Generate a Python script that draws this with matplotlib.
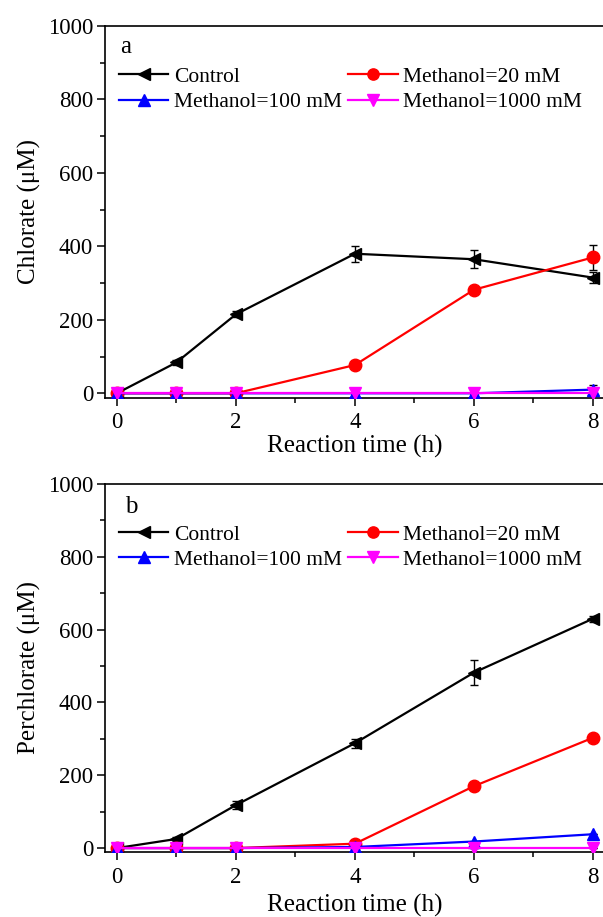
import numpy as np
import matplotlib
matplotlib.use('Agg')
import matplotlib.pyplot as plt
from matplotlib.ticker import MultipleLocator

plt.rcParams['font.family'] = ['Liberation Serif', 'DejaVu Serif']

# dados
tempo = [0, 1, 2, 4, 6, 8]
rotulos = ['Control', 'Methanol=20 mM', 'Methanol=100 mM', 'Methanol=1000 mM']

clorato_controle = [0, 84, 215, 380, 365, 315]
clorato_controle_err = [4, 8, 8, 22, 25, 15]
clorato_20 = [0, 0, 0, 77, 282, 370]
clorato_20_err = [0, 0, 0, 8, 8, 35]
clorato_100 = [0, 0, 0, 0, 0, 10]
clorato_100_err = [0, 0, 0, 0, 12, 12]
clorato_1000 = [0, 0, 0, 0, 0, 0]
clorato_1000_err = [0, 0, 0, 0, 0, 0]

perclorato_controle = [0, 25, 118, 288, 482, 630]
perclorato_controle_err = [3, 5, 12, 12, 35, 8]
perclorato_20 = [0, 0, 0, 12, 170, 303]
perclorato_20_err = [0, 0, 0, 8, 10, 0]
perclorato_100 = [0, 0, 0, 3, 18, 38]
perclorato_100_err = [0, 0, 10, 8, 0, 0]
perclorato_1000 = [0, 0, 0, 0, 0, 0]
perclorato_1000_err = [0, 0, 0, 0, 0, 0]

cores = ['black', 'red', 'blue', 'magenta']
marcadores = ['<', 'o', '^', 'v']

fig = plt.figure(figsize=(6.03, 9.17), dpi=100)
ax1 = fig.add_axes([0.1741, 0.5663, 0.829, 0.4053])
ax2 = fig.add_axes([0.1741, 0.0712, 0.829, 0.4010])


def desenhar(ax, series, erros, ylabel, letra, ylim_min, letra_pos, leg_y, xpad, xlabelpad):
    linhas = []
    for y, e, c, m, r in zip(series, erros, cores, marcadores, rotulos):
        ax.errorbar(tempo, y, yerr=e, fmt='none', ecolor='black',
                    elinewidth=1, capsize=3, capthick=1, zorder=2)
        l, = ax.plot(tempo, y, color=c, marker=m, markersize=9,
                     linewidth=1.6, label=r, zorder=3)
        linhas.append(l)
    ax.set_xlim(-0.2, 8.2)
    ax.set_ylim(ylim_min, 1000)
    ax.xaxis.set_major_locator(MultipleLocator(2))
    ax.xaxis.set_minor_locator(MultipleLocator(1))
    ax.yaxis.set_major_locator(MultipleLocator(200))
    ax.yaxis.set_minor_locator(MultipleLocator(100))
    ax.tick_params(which='major', direction='out', length=6, width=1.1,
                   labelsize=16.5, top=False, right=False)
    ax.tick_params(axis='y', which='major', pad=2.5)
    ax.tick_params(axis='x', which='major', pad=xpad)
    ax.tick_params(which='minor', direction='out', length=3.5, width=1.1,
                   top=False, right=False)
    for s in ax.spines.values():
        s.set_linewidth(1.2)
    ax.set_xlabel('Reaction time (h)', fontsize=18, labelpad=xlabelpad)
    ax.set_ylabel(ylabel, fontsize=18, labelpad=5)
    ax.text(letra_pos[0], letra_pos[1], letra, transform=ax.transAxes,
            fontsize=18, ha='center', va='center')
    ordem = [linhas[0], linhas[2], linhas[1], linhas[3]]
    ax.legend(ordem, [l.get_label() for l in ordem], ncol=2, frameon=False,
              loc='upper left', bbox_to_anchor=(0.028, leg_y), borderaxespad=0,
              borderpad=0, fontsize=15.5, handlelength=2.3, handletextpad=0.25,
              columnspacing=0.3, labelspacing=0.25, markerscale=0.9)


desenhar(ax1, [clorato_controle, clorato_20, clorato_100, clorato_1000],
         [clorato_controle_err, clorato_20_err, clorato_100_err, clorato_1000_err],
         'Chlorate (μM)', 'a', -12, (0.042, 0.944), 0.89, 4, 2)
desenhar(ax2, [perclorato_controle, perclorato_20, perclorato_100, perclorato_1000],
         [perclorato_controle_err, perclorato_20_err, perclorato_100_err, perclorato_1000_err],
         'Perchlorate (μM)', 'b', -10, (0.052, 0.937), 0.89, 5, 4)

plt.savefig('out.png', dpi=100)
